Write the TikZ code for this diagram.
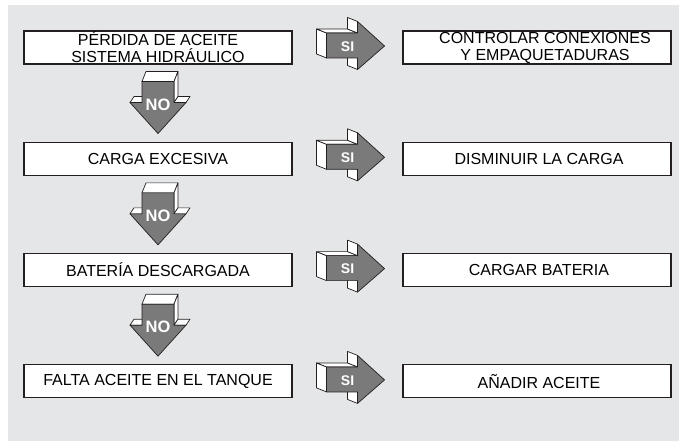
\documentclass[tikz,border=0pt]{standalone}
\usepackage{fontspec}
\setmainfont{Liberation Sans}
\usetikzlibrary{calc}
\definecolor{panelgray}{RGB}{229,230,231}
\definecolor{flechagray}{RGB}{122,122,122}
\definecolor{bordeblack}{RGB}{35,31,32}

\tikzset{
  % flecha 3D hacia abajo (origen: centro del borde superior del frente)
  noflecha/.pic={
    \draw[caraclara] (-16,0) -- (16,0) -- (20,-10) -- (-12,-10) -- cycle;
    \draw[caraclara] (16,0) -- (20,-10) -- (20,15) -- (16,21) -- cycle;
    \draw[caraclara] (-28,21) -- (-16,21) -- (-12,15) -- (-24,15) -- cycle;
    \draw[caraclara] (16,21) -- (28,21) -- (32,15) -- (20,15) -- cycle;
    \draw[caraoscura] (-16,0) -- (16,0) -- (16,21) -- (28,21) -- (0,52)
        -- (-28,21) -- (-16,21) -- cycle;
    \node[etiqueta, font=\fontsize{16.5}{16.5}\bfseries] at (0,23) {NO};
  },
  % flecha 3D hacia la derecha (origen: centro del borde izquierdo del frente)
  siflecha/.pic={
    \draw[caraclara] (0,-12.5) -- (0,12.5) -- (-10,8.5) -- (-10,-16.5) -- cycle;
    \draw[caraclara] (0,-12.5) -- (31,-12.5) -- (21,-16.5) -- (-10,-16.5) -- cycle;
    \draw[caraclara] (31,-12.5) -- (31,-24) -- (21,-28) -- (21,-16.5) -- cycle;
    \draw[caraclara] (31,12.5) -- (31,24) -- (21,20) -- (21,8.5) -- cycle;
    \draw[caraoscura] (0,-12.5) -- (31,-12.5) -- (31,-24) -- (58,0.5)
        -- (31,24) -- (31,12.5) -- (0,12.5) -- cycle;
    \node[etiqueta, font=\fontsize{14}{14}\bfseries] at (21,1) {SI};
  }
}

\begin{document}
\begin{tikzpicture}[x=1pt, y=-1pt,
    caja/.style={rectangle, draw=bordeblack, line width=1.1pt, fill=white,
        minimum width=268pt, minimum height=33pt, inner sep=0pt,
        align=center, font=\fontsize{16}{17}\selectfont},
    caraclara/.style={draw=bordeblack, line width=0.7pt, fill=white, line join=round},
    caraoscura/.style={draw=bordeblack, line width=0.7pt, fill=flechagray, line join=round},
    etiqueta/.style={text=white, inner sep=0pt}
]
    \useasboundingbox (0,0) rectangle (679,441);
    \fill[panelgray] (8,5) rectangle (679,441);

    % causas (columna izquierda)
    \node[caja] (c1) at (158,47.5) {PÉRDIDA DE ACEITE\\SISTEMA HIDRÁULICO};
    \node[caja] (c2) at (158,158.8) {CARGA EXCESIVA};
    \node[caja] (c3) at (158,270.1) {BATERÍA DESCARGADA};
    \node[caja] (c4) at (158,381.4) {FALTA ACEITE EN EL TANQUE};

    % remedios (columna derecha)
    \node[caja] (r1) at (537,47.5) {\hspace*{16pt}CONTROLAR CONEXIONES\\\hspace*{16pt}Y EMPAQUETADURAS};
    \node[caja] (r2) at (537,158.8) {\hspace*{4pt}DISMINUIR LA CARGA};
    \node[caja] (r3) at (537,270.1) {\hspace*{4pt}CARGAR BATERIA};
    \node[caja] (r4) at (537,381.4) {\hspace*{4pt}AÑADIR ACEITE};

    % flechas NO entre causas
    \foreach \a in {1,2,3} {
        \pic at ($(c\a.south)+(0,17)$) {noflecha};
    }
    % flechas SI hacia los remedios
    \foreach \a in {1,...,4} {
        \pic at ($(c\a.east)+(34,-2)$) {siflecha};
    }
\end{tikzpicture}
\end{document}
